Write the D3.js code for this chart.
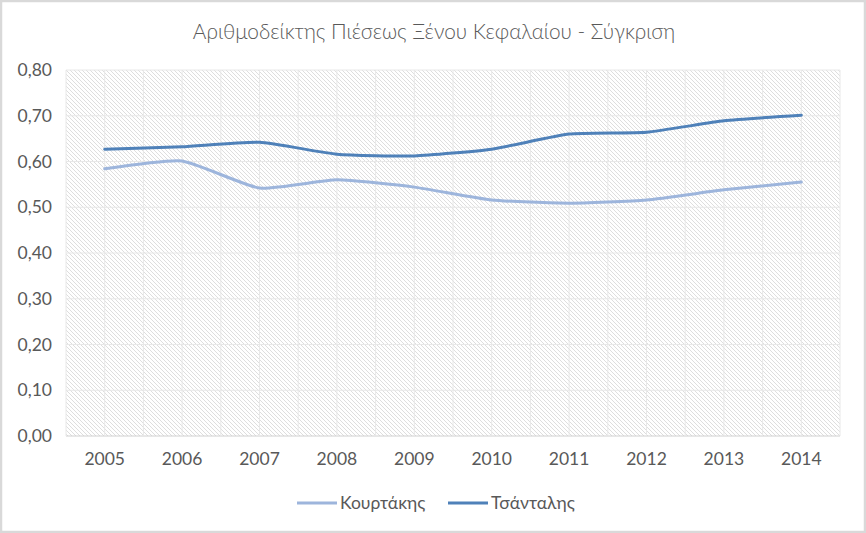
<!DOCTYPE html>
<html><head><meta charset="utf-8">
<script src="https://cdn.jsdelivr.net/npm/d3@7"></script>
<style>
html,body{margin:0;padding:0;background:#fff;}
svg{display:block;}
text{font-family:"Lato","Open Sans",sans-serif;}
</style></head>
<body>
<script>
const years = ["2005","2006","2007","2008","2009","2010","2011","2012","2013","2014"];
const kourtakis = [0.584,0.601,0.542,0.560,0.544,0.516,0.509,0.516,0.538,0.555];
const tsantalis = [0.627,0.632,0.642,0.616,0.612,0.627,0.660,0.664,0.689,0.701];
const yTicks = [0,0.1,0.2,0.3,0.4,0.5,0.6,0.7,0.8];
const seriesNames = ["Κουρτάκης","Τσάνταλης"];
const title = "Αριθμοδείκτης Πιέσεως Ξένου Κεφαλαίου - Σύγκριση";

(function(){
const W=866,H=533;
const svg=d3.select("body").append("svg").attr("width",W).attr("height",H);
const defs=svg.append("defs");
const pat=defs.append("pattern").attr("id","hatch").attr("patternUnits","userSpaceOnUse")
 .attr("width",4).attr("height",4);
pat.append("rect").attr("width",4).attr("height",4).attr("fill","#fff");
pat.append("path").attr("d","M-1,-1 L5,5 M-1,3 L1,5 M3,-1 L5,1").attr("stroke","#dedede").attr("stroke-width",1);

svg.append("rect").attr("x",1).attr("y",1).attr("width",W-2).attr("height",H-2)
 .attr("fill","#fff").attr("stroke","#d9d9d9").attr("stroke-width",2.5);

const pl=66,pr=840,pt=70,pb=436;
const x=d3.scaleBand().domain(years).range([pl,pr]);
const y=d3.scaleLinear().domain([0,0.8]).range([pb,pt]);

svg.append("rect").attr("x",pl).attr("y",pt).attr("width",pr-pl).attr("height",pb-pt).attr("fill","url(#hatch)");

const g=svg.append("g");
g.selectAll("line.h").data(yTicks).join("line")
 .attr("x1",pl).attr("x2",pr).attr("y1",d=>y(d)).attr("y2",d=>y(d))
 .attr("stroke",(d)=>d===0?"#d0d0d0":"#e8e8e8").attr("stroke-width",1);
const vx=[];
years.forEach(yr=>{vx.push(x(yr));vx.push(x(yr)+x.bandwidth()/2);});
vx.push(pr);
g.selectAll("line.v").data(vx).join("line")
 .attr("x1",d=>d).attr("x2",d=>d).attr("y1",pt).attr("y2",pb)
 .attr("stroke","#e8e8e8").attr("stroke-width",1);

const yAxis=d3.axisLeft(y).tickValues(yTicks).tickSize(0).tickPadding(14)
 .tickFormat(d=>d3.format(".2f")(d).replace(".",","));
const ya=svg.append("g").attr("transform",`translate(${pl},0)`).call(yAxis);
ya.select(".domain").remove();
ya.selectAll("text").attr("font-size",17.5).attr("fill","#595959").style("font-family","Lato,'Open Sans',sans-serif");

const xAxis=d3.axisBottom(x).tickSize(0).tickPadding(17);
const xa=svg.append("g").attr("transform",`translate(0,${pb})`).call(xAxis);
xa.select(".domain").remove();
xa.selectAll("text").attr("font-size",17.5).attr("fill","#595959").style("font-family","Lato,'Open Sans',sans-serif");

const cx=d=>x(d)+x.bandwidth()/2;
const line=d3.line().x((d,i)=>cx(years[i])).y(d=>y(d)).curve(d3.curveCardinal.tension(0.5));
const colors=["#9db5dc","#4f81b9"];
[kourtakis,tsantalis].forEach((s,i)=>{
  svg.append("path").datum(s).attr("d",line).attr("fill","none")
   .attr("stroke",colors[i]).attr("stroke-width",3).attr("stroke-linecap","round");
});

svg.append("text").attr("x",434).attr("y",39).attr("text-anchor","middle")
 .attr("font-size",20.8).attr("fill","#595959").style("font-weight",300).text(title);

const leg=[{x:297,name:seriesNames[0],c:colors[0]},{x:448,name:seriesNames[1],c:colors[1]}];
leg.forEach(l=>{
  svg.append("line").attr("x1",l.x).attr("x2",l.x+40).attr("y1",503).attr("y2",503)
   .attr("stroke",l.c).attr("stroke-width",3);
  svg.append("text").attr("x",l.x+43).attr("y",509).attr("font-size",17.5).attr("fill","#595959").text(l.name);
});
})();
</script>
</body></html>
